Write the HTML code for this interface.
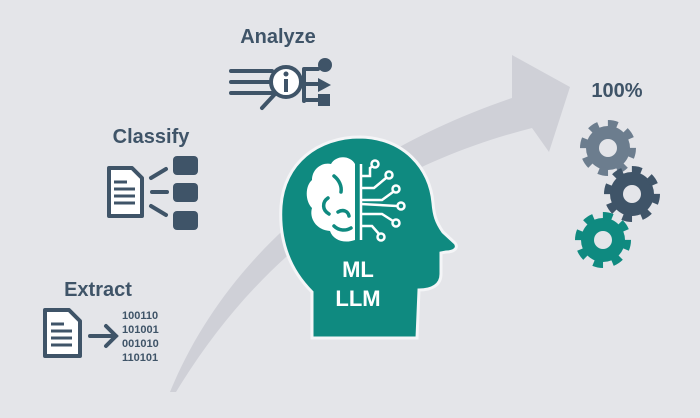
<!DOCTYPE html>
<html><head><meta charset="utf-8"><style>
html,body{margin:0;padding:0;background:#e4e5e9;}
svg{display:block}
text{font-family:"Liberation Sans",sans-serif;font-weight:bold;}
</style></head><body>
<svg width="700" height="418" viewBox="0 0 700 418">
<rect width="700" height="418" fill="#e4e5e9"/>
<path d="M170,392 C220,270 330,160 512,98 L512,55 L570,87 L549,152 L532,128 C360,172 250,270 176,392 Z" fill="#cfd0d7"/>
<path d="M312,338 L312,292 C288,268 279,238 281,206 C284,163 318,137 360,137 C404,138 430,168 433,203 C434,215 436,222 443,232 L455,243 C459,248 454,252 446,252 L441,253 L441,274 C441,285 432,290 419,290 L417,338 Z" fill="#0f8a80" stroke="#f4f5f7" stroke-width="3"/>
<g fill="#fff">
<path d="M355,164 L355,240 C344,244 333,240 330,231 C316,230 309,218 312,208 C305,201 305,186 312,180 C312,169 322,162 331,164 C336,155 350,155 355,164 Z"/>
</g>
<g fill="none" stroke="#0f8a80" stroke-width="3.5" stroke-linecap="round">
<path d="M334,176 C339,180 342,186 341,192"/>
<path d="M328,198 C322,202 322,210 329,214"/>
<path d="M338,212 C343,209 348,211 349,216"/>
<path d="M334,226 C339,231 346,231 351,228"/>
</g>
<g fill="none" stroke="#fff" stroke-width="2.5">
<path d="M361,164 L361,240"/>
<path d="M361,176 L370,176 L370,168 L373,166"/>
<path d="M361,188 L374,188 L386,178"/>
<path d="M361,200 L382,200 L393,192"/>
<path d="M361,204 L397,206"/>
<path d="M361,214 L382,214 L393,221"/>
<path d="M361,226 L372,226 L379,234"/>
</g>
<g fill="#0f8a80" stroke="#fff" stroke-width="2.5">
<circle cx="375" cy="164" r="3.5"/><circle cx="389" cy="175" r="3.5"/>
<circle cx="396" cy="189" r="3.5"/><circle cx="401" cy="206" r="3.5"/>
<circle cx="396" cy="223" r="3.5"/><circle cx="381" cy="237" r="3.5"/>
</g>
<text x="358" y="277" fill="#fff" font-size="22" text-anchor="middle">ML</text>
<text x="358" y="306" fill="#fff" font-size="22" text-anchor="middle">LLM</text>
<text x="278" y="43" fill="#3f5468" font-size="20" text-anchor="middle">Analyze</text>
<g stroke="#3f5468" stroke-width="4" stroke-linecap="round" fill="none">
<path d="M231,71 L272,71 M231,82 L272,82 M231,93 L272,93"/>
<circle cx="286" cy="82" r="15" fill="#fff"/>
<path d="M275,94 L262,108"/>
<path d="M304,69 L304,101 M304,69 L318,69 M304,84 L318,84 M304,100 L318,100"/>
</g>
<circle cx="286" cy="74" r="2.5" fill="#3f5468"/>
<rect x="284" y="79" width="4" height="13" fill="#3f5468"/>
<circle cx="325" cy="65" r="7" fill="#3f5468"/>
<path d="M318,78 L331,85 L318,92 Z" fill="#3f5468"/>
<rect x="318" y="94" width="12" height="12" fill="#3f5468"/>
<text x="151" y="143" fill="#3f5468" font-size="20" text-anchor="middle">Classify</text>
<path d="M109,168 L132,168 L142,178 L142,216 L109,216 Z" fill="#fff" stroke="#3f5468" stroke-width="4" stroke-linejoin="round"/>
<g stroke="#3f5468" stroke-width="3"><path d="M114,182 L127,182 M114,189 L135,189 M114,196 L135,196 M114,203 L135,203"/></g>
<g stroke="#3f5468" stroke-width="4" stroke-linecap="round"><path d="M151,178 L166,169 M152,192 L167,192 M151,206 L166,215"/></g>
<g fill="#3f5468"><rect x="173" y="156" width="25" height="19" rx="4"/><rect x="173" y="183" width="25" height="19" rx="4"/><rect x="173" y="211" width="25" height="19" rx="4"/></g>
<text x="98" y="296" fill="#3f5468" font-size="20" text-anchor="middle">Extract</text>
<path d="M45,310 L69,310 L80,321 L80,356 L45,356 Z" fill="#fff" stroke="#3f5468" stroke-width="4" stroke-linejoin="round"/>
<g stroke="#3f5468" stroke-width="3"><path d="M51,324 L64,324 M51,331 L72,331 M51,338 L72,338 M51,345 L72,345"/></g>
<g stroke="#3f5468" stroke-width="4" stroke-linecap="round" fill="none"><path d="M90,336 L116,336 M106,326 L116,336 L106,346"/></g>
<g fill="#3f5468" font-size="11"><text x="122" y="319">100110</text><text x="122" y="333">101001</text><text x="122" y="347">001010</text><text x="122" y="361">110101</text></g>
<text x="617" y="97" fill="#3f5468" font-size="20" text-anchor="middle">100%</text>
<g>
<circle cx="608" cy="148" r="22" fill="#6c7d8e"/><circle cx="608" cy="148" r="24" fill="none" stroke="#6c7d8e" stroke-width="8" stroke-dasharray="9.4 9.4"/><circle cx="608" cy="148" r="9" fill="#e4e5e9"/>
<circle cx="632" cy="194" r="22" fill="#3f5468"/><circle cx="632" cy="194" r="24" fill="none" stroke="#3f5468" stroke-width="8" stroke-dasharray="9.4 9.4"/><circle cx="632" cy="194" r="9" fill="#e4e5e9"/>
<circle cx="603" cy="240" r="22" fill="#0f8a80"/><circle cx="603" cy="240" r="24" fill="none" stroke="#0f8a80" stroke-width="8" stroke-dasharray="9.4 9.4"/><circle cx="603" cy="240" r="9" fill="#e4e5e9"/>
</g>
</svg>
</body></html>
